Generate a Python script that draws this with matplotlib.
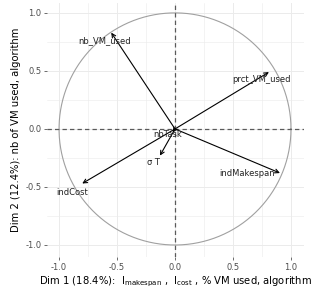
import numpy as np
import matplotlib.pyplot as plt

# variable coordinates on Dim 1 / Dim 2
names = ['nb_VM_used', 'prct_VM_used', 'indMakespan', 'indCost', 'σ T', 'nbTask']
dim1 = [-0.55, 0.81, 0.905, -0.80, -0.13, -0.02]
dim2 = [0.83, 0.49, -0.38, -0.47, -0.23, -0.03]
lab_x = [-0.61, 0.75, 0.62, -0.89, -0.19, -0.06]
lab_y = [0.76, 0.43, -0.38, -0.55, -0.29, -0.05]
ticks = [-1.0, -0.5, 0.0, 0.5, 1.0]

fig = plt.figure(figsize=(3.14, 2.91), dpi=100)
ax = fig.add_axes([0.150, 0.117, 0.818, 0.873])

# grid, theme_minimal-ish
for t in np.arange(-1.0, 1.01, 0.25):
    lw = 0.7 if abs(t * 2 - round(t * 2)) < 1e-9 else 0.4
    ax.axvline(t, color='#ebebeb', lw=lw, zorder=0)
    ax.axhline(t, color='#ebebeb', lw=lw, zorder=0)

th = np.linspace(0, 2 * np.pi, 400)
ax.plot(np.cos(th), np.sin(th), color='#a0a0a0', lw=0.8, zorder=1)
ax.axhline(0, color='#5a5a5a', lw=0.9, ls=(0, (3.5, 2.5)), zorder=1)
ax.axvline(0, color='#5a5a5a', lw=0.9, ls=(0, (3.5, 2.5)), zorder=1)

for x, y in zip(dim1, dim2):
    ax.annotate('', xy=(x, y), xytext=(0, 0),
                arrowprops=dict(arrowstyle='->', color='black', lw=0.8,
                                mutation_scale=7, shrinkA=0, shrinkB=0),
                zorder=3)
for n, x, y in zip(names, lab_x, lab_y):
    ax.text(x, y, n, fontsize=6, ha='center', va='center', color='#222222',
            zorder=4)

ax.set_xlim(-1.103, 1.112)
ax.set_ylim(-1.103, 1.086)
ax.set_xticks(ticks)
ax.set_yticks(ticks)
ax.set_xticklabels(['%.1f' % t for t in ticks])
ax.set_yticklabels(['%.1f' % t for t in ticks])
ax.tick_params(labelsize=6, colors='#555555', length=2, width=0.6,
               labelcolor='#4d4d4d', pad=2)
for s in ax.spines.values():
    s.set_visible(False)

ax.set_xlabel(r'Dim 1 (18.4%):  I$_{\mathrm{makespan}}$ ,  I$_{\mathrm{cost}}$ , % VM used, algorithm',
              fontsize=7.2, labelpad=2)
ax.set_ylabel('Dim 2 (12.4%): nb of VM used, algorithm', fontsize=7.2, labelpad=3)

fig.savefig('out.png', dpi=100)
